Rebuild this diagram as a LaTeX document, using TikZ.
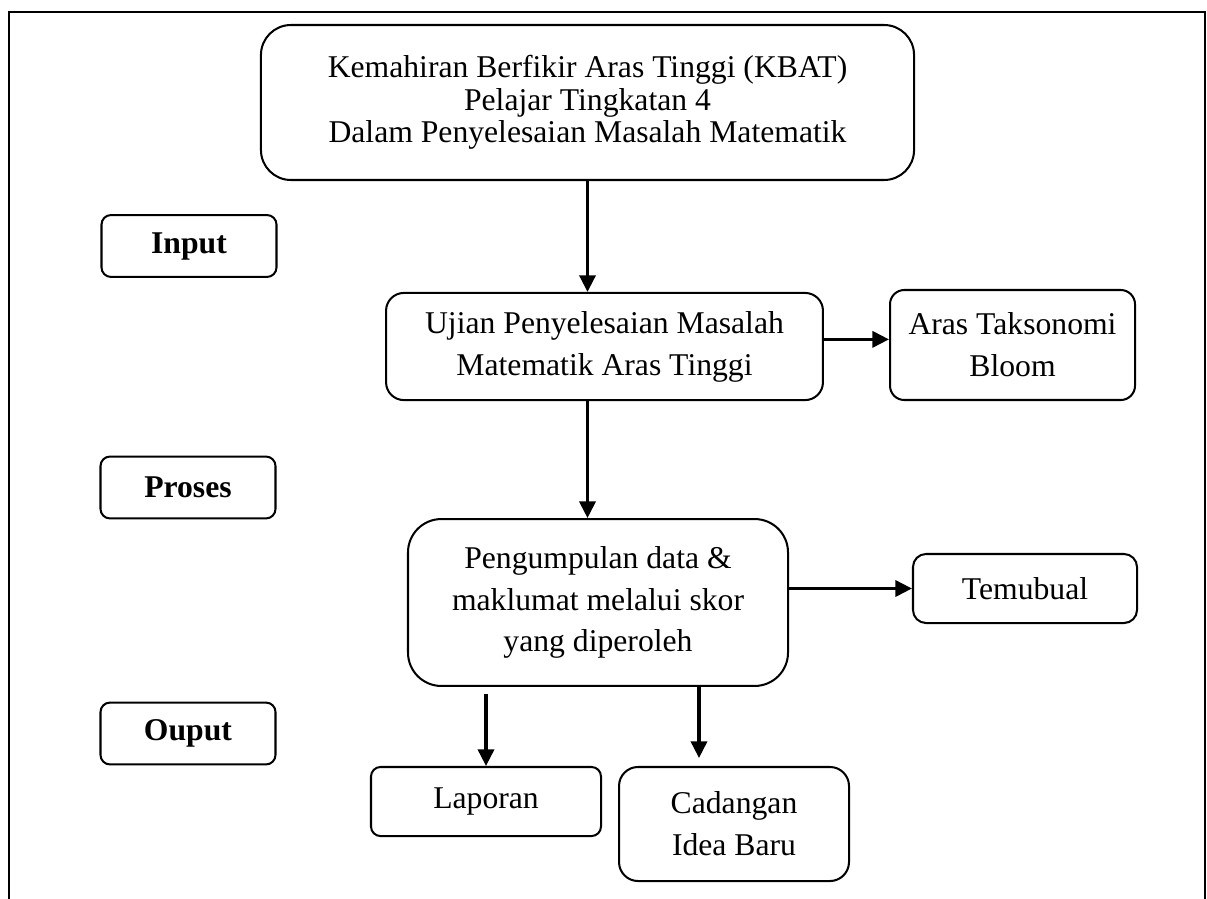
\documentclass[tikz,border=0pt]{standalone}
\usepackage{fontspec}
\setmainfont{Liberation Serif}
\usetikzlibrary{arrows.meta,calc}
\begin{document}
\begin{tikzpicture}[x=0.42pt, y=-0.42pt, >={Triangle[length=7pt,width=6.8pt]},
  box/.style={draw, line width=0.85pt, align=center, inner sep=0pt,
    font=\fontsize{13.3}{17.6}\selectfont},
  tag/.style={box, rounded corners=4pt, font=\fontsize{13.3}{15}\selectfont\bfseries,
    minimum width=73.5pt, minimum height=26pt},
  link/.style={->, line width=1.3pt}]
\useasboundingbox (0,0) rectangle (1207,898);
\draw[line width=1.1pt] (9,905) -- (9,12) -- (1205,12) -- (1205,905);

% main column
\node (top) [box, rounded corners=12.6pt, minimum width=274.3pt, minimum height=65.1pt,
  font=\fontsize{13.3}{13.6}\selectfont] at (587.5, 102.5)
  {Kemahiran Berfikir Aras Tinggi (KBAT)\\Pelajar Tingkatan 4\\Dalam Penyelesaian Masalah Matematik};
\node (ujian) [box, rounded corners=7.5pt, minimum width=183.5pt, minimum height=45pt]
  at (604.5, 346.5) {Ujian Penyelesaian Masalah\\Matematik Aras Tinggi};
\node (aras) [box, rounded corners=6pt, minimum width=102.9pt, minimum height=46.2pt]
  at (1012.5, 345) {Aras Taksonomi\\Bloom};
\node (kumpul) [box, rounded corners=14pt, minimum width=159.6pt, minimum height=70.1pt]
  at (598, 602.5) {Pengumpulan data \&\\maklumat melalui skor\\yang diperoleh};
\node (temubual) [box, rounded corners=5.5pt, minimum width=94.1pt, minimum height=29pt]
  at (1025, 588.5) {Temubual};
\node (laporan) [box, rounded corners=4pt, minimum width=96.6pt, minimum height=29pt]
  at (486, 801.5) {Laporan};
\node (cadangan) [box, rounded corners=8pt, minimum width=96.6pt, minimum height=47.9pt]
  at (734, 824) {Cadangan\\Idea Baru};

% stage labels
\node (input)  [tag] at (189, 246)   {Input};
\node (proses) [tag] at (188, 487.5) {Proses};
\node (ouput)  [tag] at (188, 733.5) {Ouput};

% arrows
\draw[link] (top.south) -- (top.south |- ujian.north);
\draw[link] (ujian.south -| top.south) -- (kumpul.north -| top.south);
\draw[link] ([yshift=3pt]ujian.east) -- ([yshift=3pt]ujian.east -| aras.west);
\draw[link] (kumpul.east |- temubual.west) -- (temubual.west);
\draw[link] ($(laporan.north |- kumpul.south)+(0,7)$) -- (laporan.north);
\coordinate (kc) at ($(kumpul.south)+(101,0)$);
\draw[link] (kc) -- ($(kc |- cadangan.north)+(0,-8)$);
\end{tikzpicture}
\end{document}
